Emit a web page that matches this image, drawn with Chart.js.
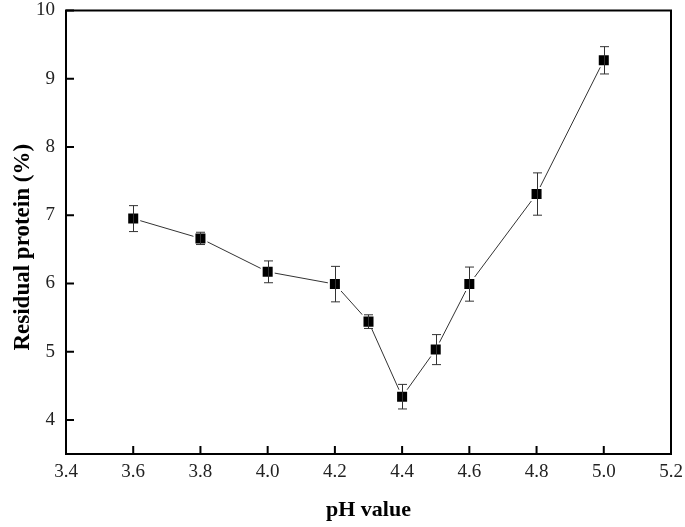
<!DOCTYPE html>
<html>
<head>
<meta charset="utf-8">
<title>Residual protein vs pH</title>
<script src="https://cdn.jsdelivr.net/npm/chart.js@4"></script>
<style>
  html, body { margin: 0; padding: 0; background: #fff; }
  canvas { display: block; }
</style>
</head>
<body>
<canvas id="phChart" width="685" height="527"></canvas>
<script>
// data
const phValues = [3.6, 3.8, 4.0, 4.2, 4.3, 4.4, 4.5, 4.6, 4.8, 5.0];
const residualProtein = [6.95, 6.66, 6.17, 5.99, 5.44, 4.34, 5.03, 5.99, 7.31, 9.27];
const errorValues = [0.19, 0.09, 0.16, 0.26, 0.10, 0.18, 0.22, 0.25, 0.31, 0.20];

const xTickValues = [3.4, 3.6, 3.8, 4.0, 4.2, 4.4, 4.6, 4.8, 5.0, 5.2];
const yTickValues = [4, 5, 6, 7, 8, 9, 10];

const xTitle = 'pH value';
const yTitle = 'Residual protein (%)';

const serif = '"Liberation Serif", "Times New Roman", serif';

// error bars, drawn on top so the short ones still show past the marker outline
const errorBarPlugin = {
  id: 'errorBars',
  afterDatasetsDraw(chart) {
    const { ctx, scales: { x, y } } = chart;
    ctx.save();
    ctx.strokeStyle = '#333';
    ctx.lineWidth = 1;
    phValues.forEach((ph, i) => {
      const px = Math.round(x.getPixelForValue(ph)) + 0.5;
      const top = y.getPixelForValue(residualProtein[i] + errorValues[i]);
      const bot = y.getPixelForValue(residualProtein[i] - errorValues[i]);
      ctx.beginPath();
      ctx.moveTo(px, top);
      ctx.lineTo(px, bot);
      ctx.moveTo(px - 4.5, top);
      ctx.lineTo(px + 4.5, top);
      ctx.moveTo(px - 4.5, bot);
      ctx.lineTo(px + 4.5, bot);
      ctx.stroke();
    });
    ctx.restore();
  }
};

// box frame with inward ticks on bottom and left, plus the y title
const framePlugin = {
  id: 'frame',
  afterDraw(chart) {
    const { ctx, chartArea: a, scales: { x, y } } = chart;
    ctx.save();
    ctx.strokeStyle = '#000';
    ctx.lineWidth = 2;
    ctx.strokeRect(a.left, a.top, a.right - a.left, a.bottom - a.top);
    ctx.beginPath();
    xTickValues.forEach(v => {
      const px = x.getPixelForValue(v);
      ctx.moveTo(px, a.bottom);
      ctx.lineTo(px, a.bottom - 8);
    });
    yTickValues.forEach(v => {
      const py = y.getPixelForValue(v);
      ctx.moveTo(a.left, py);
      ctx.lineTo(a.left + 8, py);
    });
    ctx.stroke();

    // y title sits a little below the plot centre in the original
    ctx.translate(29, (a.top + a.bottom) / 2 + 15);
    ctx.rotate(-Math.PI / 2);
    ctx.font = 'bold 23px ' + serif;
    ctx.fillStyle = '#000';
    ctx.textAlign = 'center';
    ctx.textBaseline = 'alphabetic';
    ctx.fillText(yTitle, 0, 0);
    ctx.restore();
  }
};

new Chart(document.getElementById('phChart'), {
  type: 'line',
  data: {
    datasets: [{
      data: phValues.map((ph, i) => ({ x: ph, y: residualProtein[i] })),
      borderColor: '#333',
      borderWidth: 1,
      pointStyle: 'rect',
      pointRadius: 8.5,
      pointBackgroundColor: '#000',
      pointBorderColor: '#fff',
      pointBorderWidth: 2,
      tension: 0
    }]
  },
  options: {
    responsive: false,
    animation: false,
    events: [],
    layout: { padding: { top: 10, right: 14, left: 0, bottom: 0 } },
    plugins: {
      legend: { display: false },
      tooltip: { enabled: false }
    },
    scales: {
      x: {
        type: 'linear',
        min: 3.4,
        max: 5.2,
        afterBuildTicks: s => { s.ticks = xTickValues.map(v => ({ value: v })); },
        afterFit: s => {
          s.height = 73;
          s.paddingLeft = 0;
          s.paddingRight = 0;
        },
        grid: { display: false, drawTicks: false },
        border: { display: false },
        ticks: {
          padding: 9,
          color: '#222',
          font: { family: serif, size: 19, lineHeight: 1 },
          maxRotation: 0,
          callback: v => v.toFixed(1)
        },
        title: {
          display: true,
          text: xTitle,
          color: '#000',
          font: { family: serif, size: 22, weight: 'bold' },
          padding: { top: 0, bottom: 3 }
        }
      },
      y: {
        min: 3.5,
        max: 10,
        afterBuildTicks: s => { s.ticks = yTickValues.map(v => ({ value: v })); },
        afterFit: s => {
          s.width = 66;
          s.paddingTop = 0;
          s.paddingBottom = 0;
        },
        grid: { display: false, drawTicks: false },
        border: { display: false },
        ticks: {
          padding: 11,
          color: '#222',
          font: { family: serif, size: 19, lineHeight: 1 },
          callback: v => String(v)
        }
      }
    }
  },
  plugins: [errorBarPlugin, framePlugin]
});
</script>
</body>
</html>
